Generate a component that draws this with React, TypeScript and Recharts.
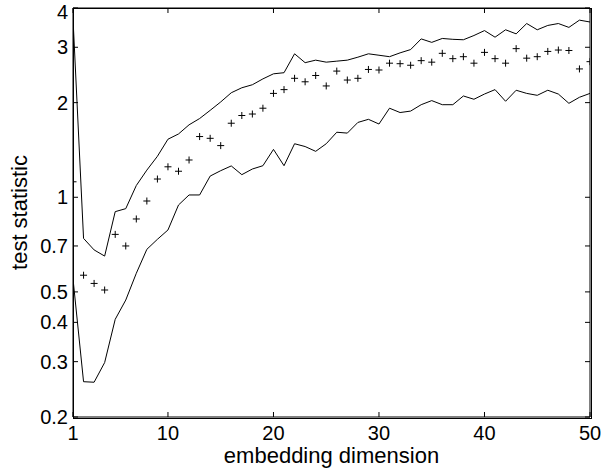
import React from "react";
import {
  ComposedChart,
  Line,
  Scatter,
  XAxis,
  YAxis,
  Label,
} from "recharts";

// embedding dimensions on the x axis
const dims = [
  1, 2, 3, 4, 5, 6, 7, 8, 9, 10, 11, 12, 13, 14, 15, 16, 17, 18, 19, 20, 21, 22, 23, 24, 25,
  26, 27, 28, 29, 30, 31, 32, 33, 34, 35, 36, 37, 38, 39, 40, 41, 42, 43, 44, 45, 46, 47, 48, 49, 50,
];

// upper bound (solid line)
const upper = [
  3.7, 0.74, 0.68, 0.65, 0.9, 0.92, 1.09, 1.22, 1.35, 1.53, 1.59, 1.7, 1.78, 1.89, 2.01, 2.15, 2.23,
  2.28, 2.38, 2.47, 2.49, 2.86, 2.68, 2.73, 2.69, 2.71, 2.73, 2.79, 2.86, 2.83, 2.8, 2.88, 2.95, 3.19,
  3.11, 3.2, 3.18, 3.17, 3.27, 3.39, 3.23, 3.41, 3.31, 3.57, 3.41, 3.52, 3.57, 3.47, 3.66, 3.61,
];

// lower bound (solid line)
const lower = [
  0.55, 0.259, 0.258, 0.298, 0.409, 0.471, 0.573, 0.683, 0.735, 0.787, 0.945, 1.017, 1.017, 1.168,
  1.215, 1.258, 1.18, 1.23, 1.26, 1.42, 1.26, 1.48, 1.45, 1.4, 1.48, 1.61, 1.6, 1.73, 1.77, 1.71, 1.92,
  1.86, 1.88, 1.97, 2.03, 1.97, 1.97, 2.1, 2.05, 2.13, 2.2, 2.02, 2.19, 2.14, 2.11, 2.19, 2.13, 1.99,
  2.08, 2.14,
];

// test statistic (+ markers)
const stat = [
  1.12, 0.565, 0.532, 0.507, 0.762, 0.7, 0.853, 0.973, 1.143, 1.25, 1.21, 1.314, 1.56, 1.54, 1.46,
  1.72, 1.82, 1.84, 1.92, 2.14, 2.2, 2.39, 2.33, 2.44, 2.26, 2.52, 2.36, 2.39, 2.55, 2.54, 2.67, 2.66,
  2.63, 2.72, 2.69, 2.87, 2.76, 2.8, 2.67, 2.89, 2.76, 2.67, 2.97, 2.77, 2.8, 2.91, 2.94, 2.93, 2.56,
  2.7,
];

const xTicks = [1, 10, 20, 30, 40, 50];
const yTicks = [0.2, 0.3, 0.4, 0.5, 0.7, 1, 2, 3, 4];

const data = dims.map((d, i) => ({
  dim: d,
  upper: upper[i],
  lower: lower[i],
  stat: stat[i],
}));

const FONT = "'Liberation Sans', Arial, Helvetica, sans-serif";
const tickStyle = { fill: "#000", fontSize: 20, fontFamily: FONT };

// plot box in pixels (chart margins + axis sizes below)
const PLOT = { left: 73, top: 8, right: 590, bottom: 417 };

const PlusMarker = (props: any) => {
  const { cx, cy } = props;
  if (cx == null || cy == null) return null;
  const r = 3.5;
  return (
    <path
      d={`M${cx - r},${cy}H${cx + r}M${cx},${cy - r}V${cy + r}`}
      stroke="#000"
      strokeWidth={1}
      fill="none"
    />
  );
};

const blank = () => "";

const layer: React.CSSProperties = { position: "absolute", left: 0, top: 0 };

const App: React.FC = () => {
  return (
    <div style={{ position: "absolute", left: 0, top: 0, width: 603, height: 473, background: "#fff" }}>
      <div style={layer}>
        <ComposedChart
          width={603}
          height={473}
          data={data}
          margin={{ top: 8, right: 13, left: 0, bottom: 0 }}
        >
          <XAxis
            dataKey="dim"
            type="number"
            domain={[1, 50]}
            ticks={xTicks}
            allowDataOverflow
            height={56}
            stroke="#000"
            tickSize={-5}
            tickMargin={14}
            tick={tickStyle}
          >
            <Label
              value="embedding dimension"
              position="insideBottom"
              offset={10}
              style={{ fill: "#000", fontSize: 22, fontFamily: FONT }}
            />
          </XAxis>
          <YAxis
            scale="log"
            type="number"
            domain={[0.2, 4]}
            ticks={yTicks}
            allowDataOverflow
            width={73}
            stroke="#000"
            tickSize={-5}
            tickMargin={10}
            tick={tickStyle}
          >
            <Label
              value="test statistic"
              angle={-90}
              position="insideLeft"
              offset={19}
              style={{ fill: "#000", fontSize: 22, fontFamily: FONT, textAnchor: "middle" }}
            />
          </YAxis>
          <Line
            dataKey="upper"
            type="linear"
            stroke="#000"
            strokeWidth={1}
            dot={false}
            isAnimationActive={false}
          />
          <Line
            dataKey="lower"
            type="linear"
            stroke="#000"
            strokeWidth={1}
            dot={false}
            isAnimationActive={false}
          />
          <Scatter dataKey="stat" shape={PlusMarker} isAnimationActive={false} />
        </ComposedChart>
      </div>

      {/* second layer: top and right axes with inward ticks, same plot box */}
      <div style={{ ...layer, pointerEvents: "none" }}>
        <ComposedChart
          width={603}
          height={473}
          data={data}
          margin={{ top: 0, right: 3, left: PLOT.left, bottom: 473 - PLOT.bottom }}
        >
          <XAxis
            orientation="top"
            dataKey="dim"
            type="number"
            domain={[1, 50]}
            ticks={xTicks}
            allowDataOverflow
            height={PLOT.top}
            stroke="#000"
            tickSize={-5}
            tickMargin={0}
            tickFormatter={blank}
          />
          <YAxis
            orientation="right"
            scale="log"
            type="number"
            domain={[0.2, 4]}
            ticks={yTicks}
            allowDataOverflow
            width={10}
            stroke="#000"
            tickSize={-5}
            tickMargin={0}
            tickFormatter={blank}
          />
          <Line
            dataKey="upper"
            type="linear"
            stroke="none"
            dot={false}
            activeDot={false}
            isAnimationActive={false}
          />
        </ComposedChart>
      </div>

      {/* box around the plot area */}
      <div
        style={{
          position: "absolute",
          left: PLOT.left - 0.5,
          top: PLOT.top - 0.5,
          width: PLOT.right - PLOT.left,
          height: PLOT.bottom - PLOT.top,
          border: "1px solid #000",
          boxSizing: "content-box",
          pointerEvents: "none",
        }}
      />
    </div>
  );
};

export default App;
